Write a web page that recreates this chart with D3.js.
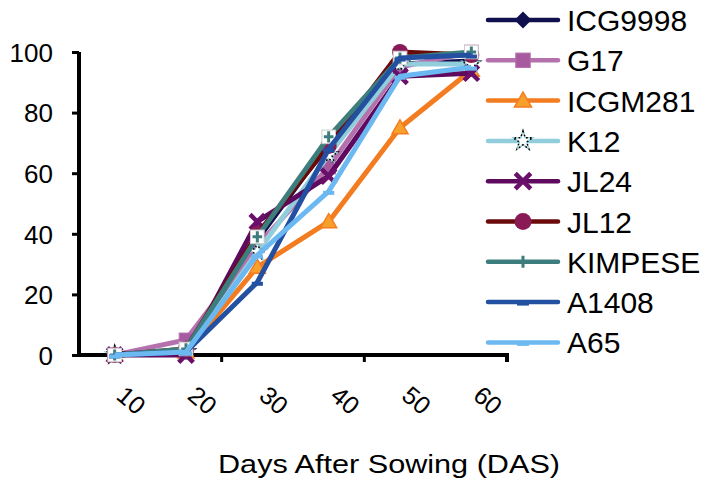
<!DOCTYPE html>
<html><head><meta charset="utf-8">
<script src="https://cdn.jsdelivr.net/npm/d3@7"></script>
<style>body{margin:0;background:#fff}svg{display:block;font-family:"Liberation Sans",Arial,sans-serif}</style>
</head><body>
<svg id="c" width="707" height="488"></svg>
<script>
const days = ["10","20","30","40","50","60"];
const yTicks = [0,20,40,60,80,100];
const seriesNames = ["ICG9998","G17","ICGM281","K12","JL24","JL12","KIMPESE","A1408","A65"];
const ICG9998 = [0,1,38,70,96,97];
const G17     = [0,5,36,62,95,100];
const ICGM281 = [0,1,29,44,75,94];
const K12     = [0,1,34,66,96,96];
const JL24    = [0,0,44,59,92,93];
const JL12    = [0,2,40,69,100,99];
const KIMPESE = [0,2,39,72,98,100];
const A1408   = [0,1,24,68,98,99];
const A65     = [0,1,33,54,92,95];
const values = [ICG9998,G17,ICGM281,K12,JL24,JL12,KIMPESE,A1408,A65];
const lineColors = ["#10104e","#b571ad","#f47c20","#92cddc","#5e0a5e","#6b0a0a","#3e7d7d","#2350a0","#6cb9f2"];
const markColors = ["#10104e","#a75aa0","#f7a02b","#92cddc","#6a0f6a","#8a1a55","#3e7d7d","#2350a0","#6cb9f2"];
const markTypes = ["diamond","square","triangle","star","x","circle","plus","dash","dash"];

const svg = d3.select("#c");
const x = d3.scaleBand().domain(days).range([79,507]);
const y = d3.scaleLinear().domain([0,100]).range([355,52]);

// axes
const yAxis = svg.append("g").attr("transform","translate(79,0)")
  .call(d3.axisLeft(y).tickValues(yTicks).tickSize(7).tickSizeOuter(0));
yAxis.select(".domain").attr("stroke","#000").attr("stroke-width",4).attr("d","M0,355V52");
yAxis.selectAll(".tick line").attr("stroke","#000").attr("stroke-width",3).attr("x1",-7).attr("x2",0);
yAxis.selectAll(".tick text").attr("font-size",26).attr("fill","#000").attr("x",-26).attr("dy","0.36em");

const xAxis = svg.append("g").attr("transform","translate(0,355)")
  .call(d3.axisBottom(x).tickSize(0).tickSizeOuter(0));
xAxis.select(".domain").attr("stroke","#000").attr("stroke-width",4).attr("d","M79,0H507V7");
xAxis.selectAll(".tick text").attr("font-size",25).attr("fill","#000")
  .attr("text-anchor","middle").attr("y",0).attr("dy",0)
  .attr("transform","translate(11,52) rotate(40)");
// tick marks every two categories
const bStep = x.step();
[2,4].forEach(i=>{
  svg.append("line").attr("x1",79+i*bStep).attr("x2",79+i*bStep).attr("y1",355).attr("y2",362)
    .attr("stroke","#000").attr("stroke-width",3);
});

svg.append("text").attr("x",218).attr("y",473).attr("font-size",26)
  .attr("textLength",342).attr("lengthAdjust","spacingAndGlyphs").text("Days After Sowing (DAS)");

function drawMarker(g, type, cx, cy, col, s, inChart){
  if(type==="diamond"){
    g.append("path").attr("d",`M${cx},${cy-s}L${cx+s},${cy}L${cx},${cy+s}L${cx-s},${cy}Z`).attr("fill",col);
  } else if(type==="square"){
    g.append("rect").attr("x",cx-s*0.85).attr("y",cy-s*0.85).attr("width",s*1.7).attr("height",s*1.7).attr("fill",col).attr("stroke","#b571ad").attr("stroke-width",1);
  } else if(type==="triangle"){
    g.append("path").attr("d",`M${cx},${cy-s}L${cx+s},${cy+s*0.75}L${cx-s},${cy+s*0.75}Z`).attr("fill",col).attr("stroke","#f47c20").attr("stroke-width",1.5);
  } else if(type==="star"){
    const st = d3.symbol().type(d3.symbolStar).size(s*s*1.6)();
    g.append("path").attr("d",st).attr("transform",`translate(${cx},${cy})`).attr("fill","#fff").attr("stroke","#000").attr("stroke-width",1.5).attr("stroke-dasharray","2,2");
    g.append("path").attr("d",st).attr("transform",`translate(${cx},${cy})`).attr("fill","none").attr("stroke",col).attr("stroke-width",1.5).attr("stroke-dasharray","2,2").attr("stroke-dashoffset",2);
  } else if(type==="x"){
    const xs = d3.symbol().type(d3.symbolX).size(s*s*2.2)();
    g.append("path").attr("d",xs).attr("transform",`translate(${cx},${cy})`).attr("fill",col).attr("stroke",col).attr("stroke-width",4.5);
  } else if(type==="circle"){
    g.append("circle").attr("cx",cx).attr("cy",cy).attr("r",s).attr("fill",col);
  } else if(type==="plus"){
    if(inChart){
      g.append("rect").attr("x",cx-s*0.85).attr("y",cy-s*0.85).attr("width",s*1.7).attr("height",s*1.7).attr("fill","#fff").attr("stroke","#ccc").attr("stroke-width",1);
    }
    g.append("path").attr("d",`M${cx-s*0.6},${cy}H${cx+s*0.6}M${cx},${cy-s*0.7}V${cy+s*0.7}`).attr("stroke",col).attr("stroke-width",3);
  } else if(type==="dash"){
    g.append("path").attr("d",`M${cx-s*0.7},${cy+1.5}H${cx+s*0.7}`).attr("stroke",col).attr("stroke-width",4);
  }
}

const line = d3.line().x((d,i)=>x(days[i])+x.bandwidth()/2).y(d=>y(d));
seriesNames.forEach((name,k)=>{
  const g = svg.append("g");
  g.append("path").datum(values[k]).attr("d",line).attr("fill","none")
    .attr("stroke",lineColors[k]).attr("stroke-width",5).attr("stroke-linejoin","round");
  values[k].forEach((v,i)=>{
    drawMarker(g, markTypes[k], x(days[i])+x.bandwidth()/2, y(v), markColors[k], 8, true);
  });
});

// legend
const legY0 = 20, legStep = 40.3;
seriesNames.forEach((name,k)=>{
  const cy = legY0 + k*legStep;
  const g = svg.append("g");
  g.append("line").attr("x1",488).attr("x2",558).attr("y1",cy).attr("y2",cy)
    .attr("stroke",lineColors[k]).attr("stroke-width",4.5).attr("stroke-linecap","round");
  drawMarker(g, markTypes[k], 523, cy, markColors[k], 8.5, false);
  g.append("text").attr("x",567).attr("y",cy+11).attr("font-size",30).attr("fill","#000").text(name);
});
</script>
</body></html>
